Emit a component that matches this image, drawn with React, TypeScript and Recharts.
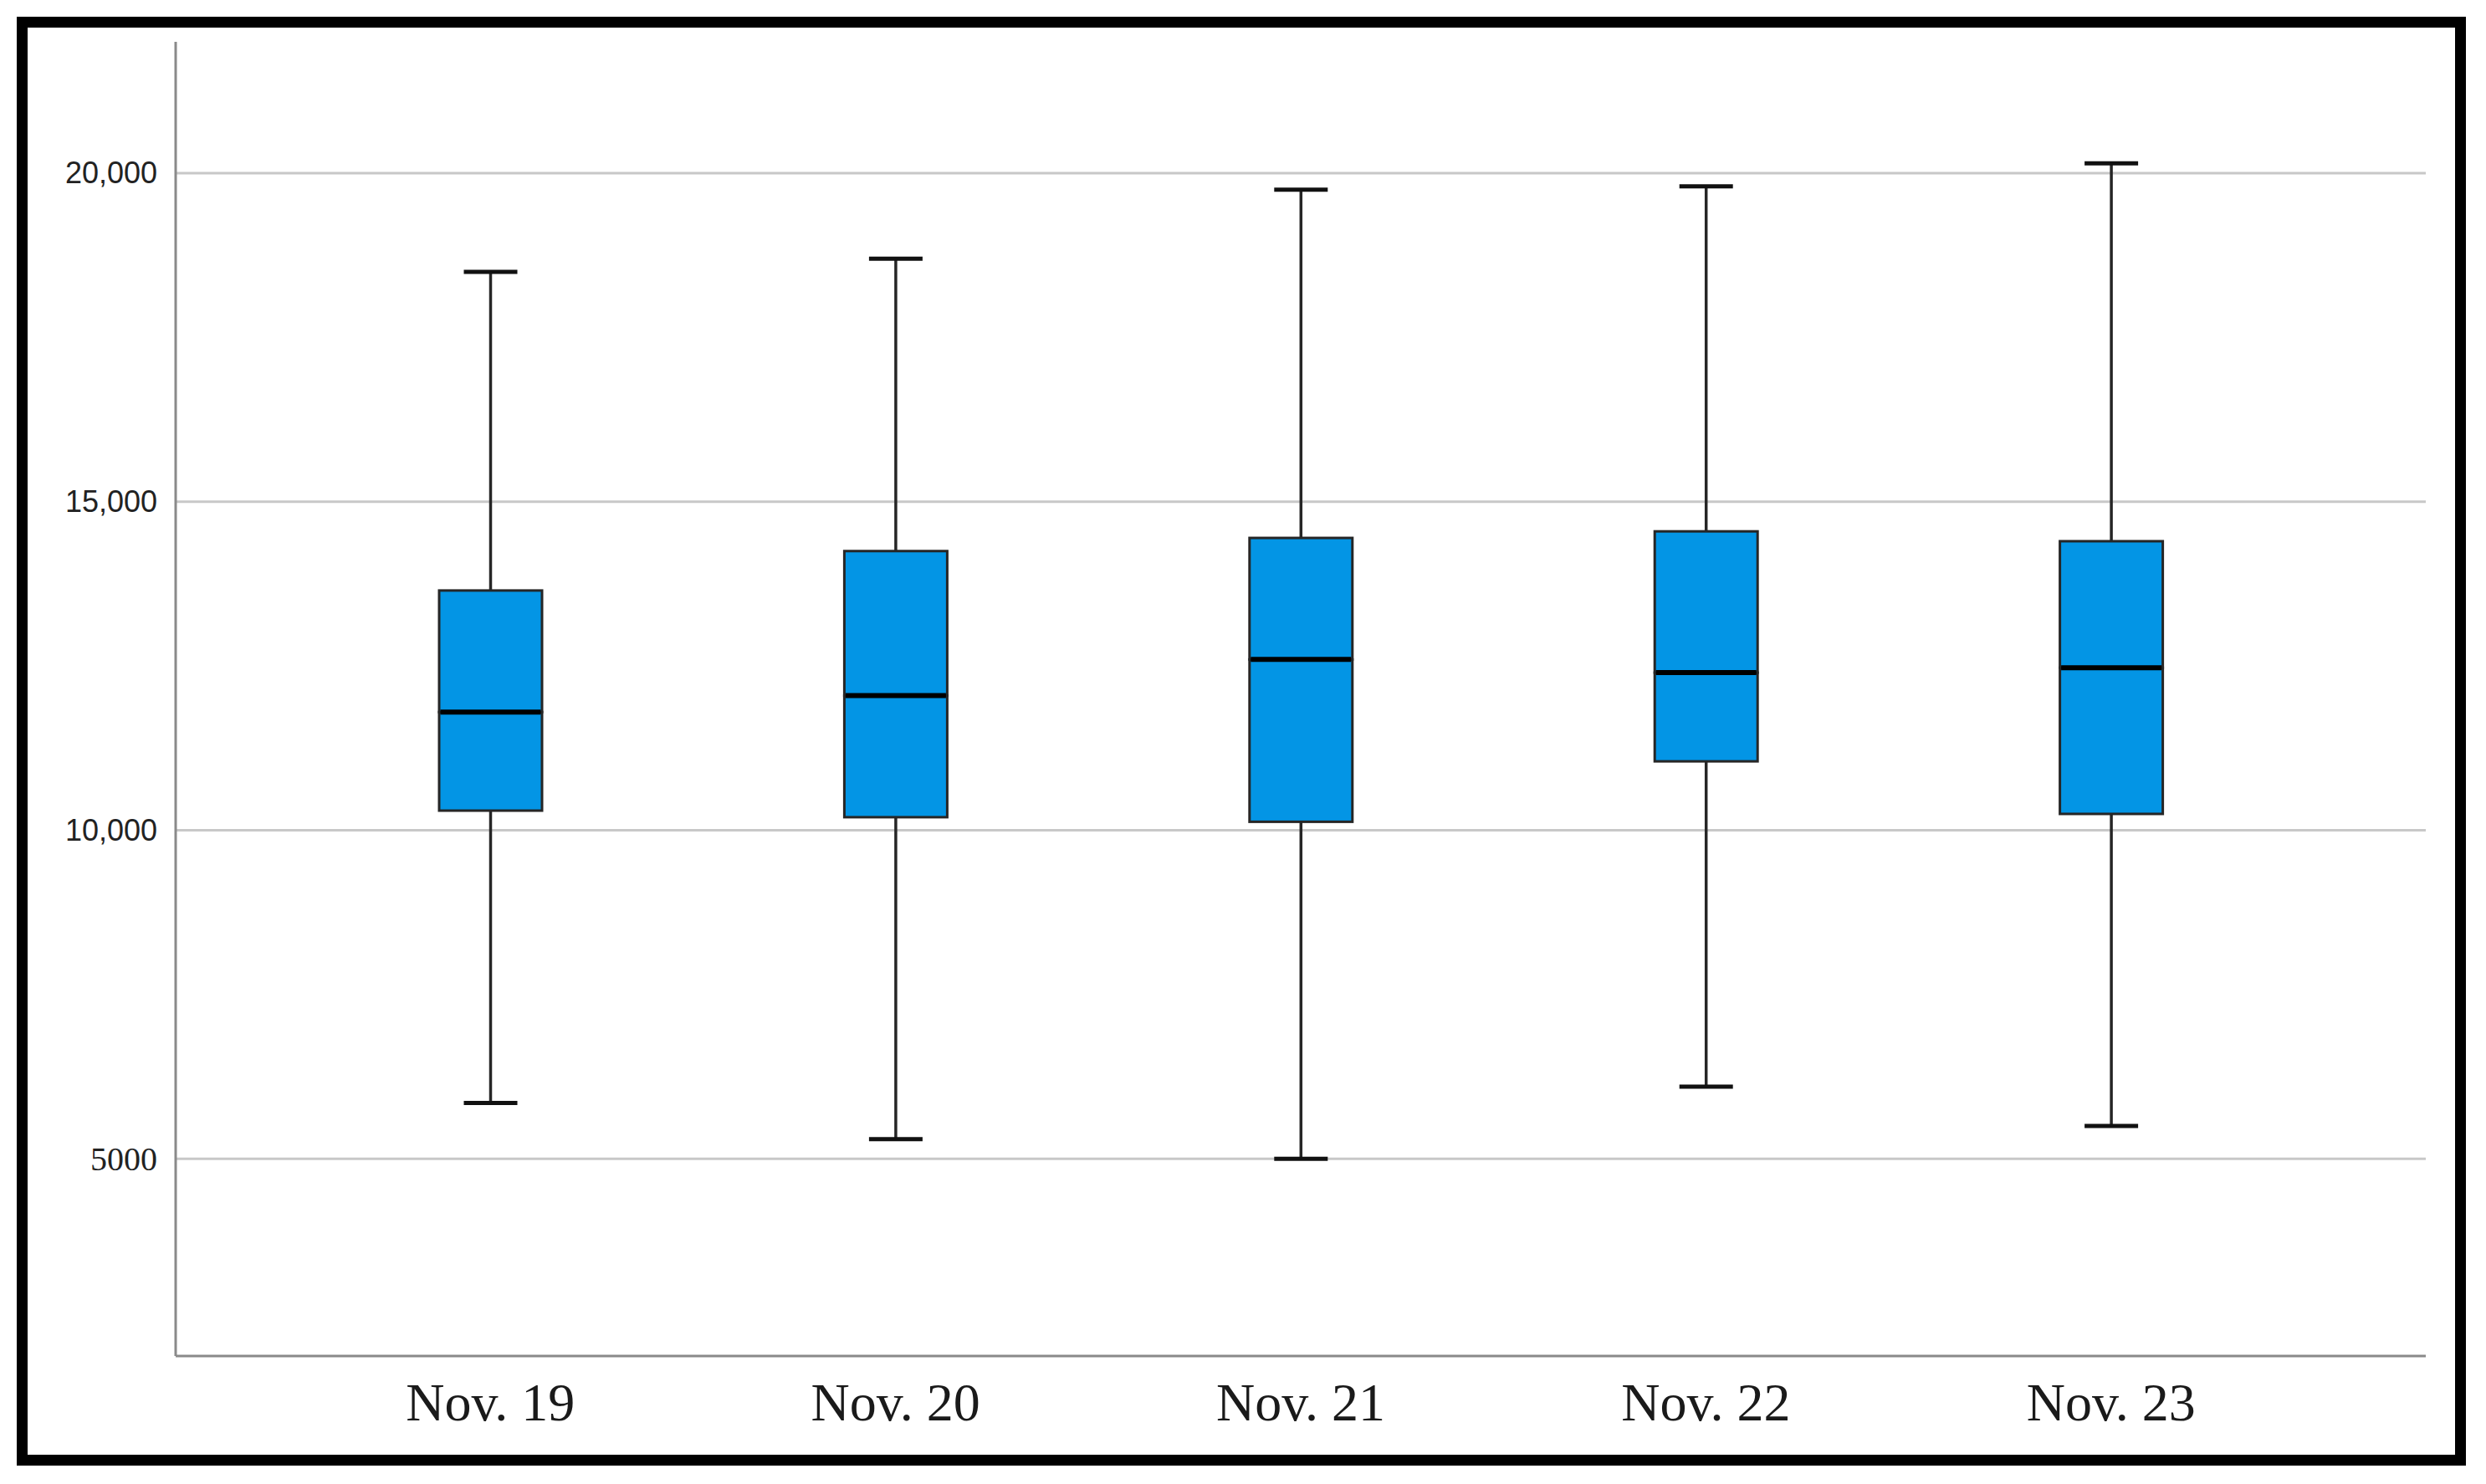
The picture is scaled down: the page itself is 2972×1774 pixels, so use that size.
import React from 'react';
import { ComposedChart, Bar, XAxis, YAxis, CartesianGrid } from 'recharts';

const categories = ['Nov. 19', 'Nov. 20', 'Nov. 21', 'Nov. 22', 'Nov. 23'];
const whiskerLow = [5850, 5300, 5000, 6100, 5500];
const q1 = [10300, 10200, 10130, 11050, 10250];
const median = [11800, 12050, 12600, 12400, 12475];
const q3 = [13650, 14250, 14450, 14550, 14400];
const whiskerHigh = [18500, 18700, 19750, 19800, 20150];
const yTicks = [5000, 10000, 15000, 20000];

const data = categories.map((c, i) => ({
  name: c,
  base: whiskerLow[i],
  lowWhisker: q1[i] - whiskerLow[i],
  lowBox: median[i] - q1[i],
  highBox: q3[i] - median[i],
  highWhisker: whiskerHigh[i] - q3[i],
}));

const BOX_FILL = '#0395E5';
const EDGE = '#262626';
const CAP = 64;

const norm = (p: any) => {
  let { x, y, width, height } = p;
  if (height < 0) {
    y = y + height;
    height = -height;
  }
  return { x, y, width, height };
};

const Empty = () => <g />;

const LowWhisker = (p: any) => {
  const { x, y, width, height } = norm(p);
  const cx = x + width / 2;
  return (
    <g>
      <line x1={cx} x2={cx} y1={y} y2={y + height} stroke={EDGE} strokeWidth={3.5} />
      <line x1={cx - CAP / 2} x2={cx + CAP / 2} y1={y + height} y2={y + height} stroke="#111" strokeWidth={5} />
    </g>
  );
};

const HighWhisker = (p: any) => {
  const { x, y, width, height } = norm(p);
  const cx = x + width / 2;
  return (
    <g>
      <line x1={cx} x2={cx} y1={y} y2={y + height} stroke={EDGE} strokeWidth={3.5} />
      <line x1={cx - CAP / 2} x2={cx + CAP / 2} y1={y} y2={y} stroke="#111" strokeWidth={5} />
    </g>
  );
};

const LowBox = (p: any) => {
  const { x, y, width, height } = norm(p);
  return <rect x={x} y={y} width={width} height={height} fill={BOX_FILL} stroke={EDGE} strokeWidth={3} />;
};

const HighBox = (p: any) => {
  const { x, y, width, height } = norm(p);
  return (
    <g>
      <rect x={x} y={y} width={width} height={height} fill={BOX_FILL} stroke={EDGE} strokeWidth={3} />
      <line x1={x + 1.5} x2={x + width - 1.5} y1={y + height} y2={y + height} stroke="#000" strokeWidth={6} />
    </g>
  );
};

const XTick = (p: any) => {
  const { x, y, payload } = p;
  return (
    <text x={x} y={y + 77} textAnchor="middle" fontFamily="'Liberation Serif', 'Times New Roman', serif" fontSize={64} fill="#1a1a1a">
      {payload.value}
    </text>
  );
};

const YTick = (p: any) => {
  const { x, y, payload } = p;
  const v = payload.value as number;
  const serif = v < 10000;
  const label = v >= 10000 ? v.toLocaleString('en-US') : String(v);
  return (
    <text
      x={x}
      y={y}
      dy={serif ? 14 : 12}
      textAnchor="end"
      fontFamily={serif ? "'Liberation Serif', serif" : "'Liberation Sans', Arial, sans-serif"}
      fontSize={serif ? 40 : 36}
      fill="#222"
    >
      {label}
    </text>
  );
};

export default function App() {
  return (
    <div style={{ position: 'fixed', left: 0, top: 0, width: 2972, height: 1774, background: '#fff', overflow: 'hidden' }}>
      <ComposedChart
        width={2972}
        height={1774}
        data={data}
        margin={{ top: 50, right: 72, bottom: 0, left: 0 }}
        barCategoryGap={0}
      >
        <CartesianGrid vertical={false} horizontalValues={yTicks} stroke="#c8c8c8" strokeWidth={3} />
        <XAxis
          dataKey="name"
          height={153}
          padding={{ left: 134, right: 134 }}
          tickLine={false}
          tickSize={0}
          tickMargin={0}
          axisLine={{ stroke: '#8a8a8a', strokeWidth: 3 }}
          tick={<XTick />}
          interval={0}
        />
        <YAxis
          width={210}
          domain={[2000, 22000]}
          allowDataOverflow
          ticks={yTicks}
          tickLine={false}
          tickSize={0}
          tickMargin={22}
          axisLine={{ stroke: '#8a8a8a', strokeWidth: 3 }}
          tick={<YTick />}
        />
        <Bar dataKey="base" stackId="box" barSize={123} shape={<Empty />} isAnimationActive={false} />
        <Bar dataKey="lowWhisker" stackId="box" barSize={123} shape={<LowWhisker />} isAnimationActive={false} />
        <Bar dataKey="lowBox" stackId="box" barSize={123} shape={<LowBox />} isAnimationActive={false} />
        <Bar dataKey="highBox" stackId="box" barSize={123} shape={<HighBox />} isAnimationActive={false} />
        <Bar dataKey="highWhisker" stackId="box" barSize={123} shape={<HighWhisker />} isAnimationActive={false} />
      </ComposedChart>
      <div
        style={{
          position: 'absolute',
          left: 20,
          top: 20,
          width: 2928,
          height: 1732,
          boxSizing: 'border-box',
          border: '13px solid #000',
          pointerEvents: 'none',
        }}
      />
    </div>
  );
}
